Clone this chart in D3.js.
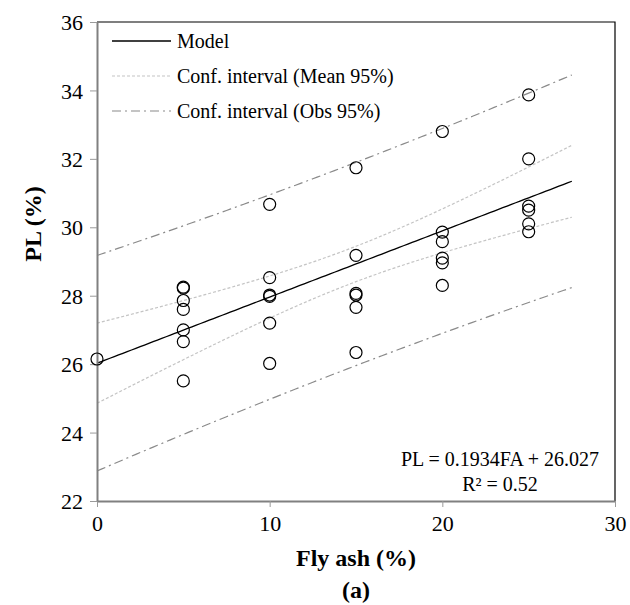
<!DOCTYPE html>
<html>
<head>
<meta charset="utf-8">
<script src="https://cdn.jsdelivr.net/npm/d3@7"></script>
<style>
  html, body { margin: 0; padding: 0; background: #fff; }
  svg { display: block; font-family: "Liberation Serif", "Times New Roman", serif; }
</style>
</head>
<body>
<svg id="chart" width="630" height="605"></svg>
<script>
// Fly ash content (%) of each specimen
const flyAsh = [0,
  5, 5, 5, 5, 5, 5, 5,
  10, 10, 10, 10, 10, 10,
  15, 15, 15, 15, 15, 15,
  20, 20, 20, 20, 20, 20,
  25, 25, 25, 25, 25, 25];
// Measured plastic limit PL (%)
const plasticLimit = [26.15,
  28.25, 28.22, 27.86, 27.6, 27.0, 26.66, 25.51,
  30.67, 28.53, 28.02, 27.98, 27.2, 26.02,
  31.74, 29.18, 28.07, 28.02, 27.66, 26.34,
  32.8, 29.86, 29.58, 29.1, 28.96, 28.3,
  33.87, 32.0, 30.62, 30.5, 30.1, 29.87];

// Fitted model PL = slope*FA + intercept and its regression statistics
const slope = 0.1934;
const intercept = 26.027;
const rSquared = 0.52;
const fitStats = { n: 32, xMean: 14.69, sxx: 1673, s: 1.432, t: 2.042 };
const modelRange = [0, 27.5];

const xTicks = [0, 10, 20, 30];
const yTicks = [22, 24, 26, 28, 30, 32, 34, 36];

const legendLabels = ["Model", "Conf. interval (Mean 95%)", "Conf. interval (Obs 95%)"];

const svg = d3.select("#chart");
const plotLeft = 97, plotRight = 615, plotTop = 22, plotBottom = 501;

const x = d3.scaleLinear().domain([0, 30]).range([plotLeft, plotRight]);
const y = d3.scaleLinear().domain([22, 36]).range([plotBottom, plotTop]);

// Model and confidence bands
const model = fx => intercept + slope * fx;
const halfWidth = (fx, obs) => fitStats.t * fitStats.s *
  Math.sqrt((obs ? 1 : 0) + 1 / fitStats.n + (fx - fitStats.xMean) ** 2 / fitStats.sxx);
const xs = d3.range(modelRange[0], modelRange[1] + 0.001, 0.25);
const line = d3.line().x(d => x(d[0])).y(d => y(d[1]));

const styles = {
  model: { stroke: "#000", width: 1.3, dash: null },
  mean: { stroke: "#c4c4c4", width: 1.2, dash: "3,2" },
  obs: { stroke: "#8a8a8a", width: 1.2, dash: "9,4,2,4" }
};

const curves = [
  ["obs", xs.map(v => [v, model(v) + halfWidth(v, true)])],
  ["obs", xs.map(v => [v, model(v) - halfWidth(v, true)])],
  ["mean", xs.map(v => [v, model(v) + halfWidth(v, false)])],
  ["mean", xs.map(v => [v, model(v) - halfWidth(v, false)])],
  ["model", xs.map(v => [v, model(v)])]
];

svg.append("g").selectAll("path").data(curves).join("path")
  .attr("d", d => line(d[1]))
  .attr("fill", "none")
  .attr("stroke", d => styles[d[0]].stroke)
  .attr("stroke-width", d => styles[d[0]].width)
  .attr("stroke-dasharray", d => styles[d[0]].dash);

// Frame: top and right border
svg.append("path")
  .attr("d", `M${plotLeft},${plotTop}H${plotRight}V${plotBottom}`)
  .attr("fill", "none").attr("stroke", "#000").attr("stroke-width", 1.2);

// Axes
const xAxis = svg.append("g").attr("transform", `translate(0,${plotBottom})`)
  .call(d3.axisBottom(x).tickValues(xTicks).tickSize(6).tickSizeOuter(0).tickPadding(8));
const yAxis = svg.append("g").attr("transform", `translate(${plotLeft},0)`)
  .call(d3.axisLeft(y).tickValues(yTicks).tickSize(7).tickSizeOuter(0).tickPadding(7));

[xAxis, yAxis].forEach(g => {
  g.select(".domain").attr("stroke", "#808080").attr("stroke-width", 2);
  g.selectAll(".tick line").attr("stroke", "#9a9a9a").attr("stroke-width", 1);
  g.selectAll(".tick text").attr("fill", "#000")
    .style("font-family", "'Liberation Serif', serif").style("font-size", "22px");
});
yAxis.selectAll(".tick text").attr("dy", "0.35em");

// Observations
svg.append("g").selectAll("circle").data(flyAsh.map((v, i) => [v, plasticLimit[i]]))
  .join("circle")
  .attr("cx", d => x(d[0])).attr("cy", d => y(d[1])).attr("r", 6)
  .attr("fill", "none").attr("stroke", "#000").attr("stroke-width", 1.2);

// Legend
const legend = svg.append("g");
const legendKeys = ["model", "mean", "obs"];
legendLabels.forEach((label, i) => {
  const ly = 41 + i * 35;
  const st = styles[legendKeys[i]];
  legend.append("line").attr("x1", 112).attr("x2", 171).attr("y1", ly).attr("y2", ly)
    .attr("stroke", st.stroke).attr("stroke-width", st.width).attr("stroke-dasharray", st.dash);
  legend.append("text").attr("x", 177).attr("y", ly).attr("dy", "0.33em")
    .style("font-size", "20px").text(label);
});

// Equation
svg.append("text").attr("x", 500).attr("y", 466).attr("text-anchor", "middle")
  .style("font-size", "20px").text(`PL = ${slope}FA + ${intercept}`);
svg.append("text").attr("x", 500).attr("y", 491).attr("text-anchor", "middle")
  .style("font-size", "20px").text(`R² = ${rSquared}`);

// Axis titles and panel label
svg.append("text").attr("x", (plotLeft + plotRight) / 2).attr("y", 566).attr("text-anchor", "middle")
  .style("font-size", "24px").style("font-weight", "bold").text("Fly ash (%)");
svg.append("text").attr("x", (plotLeft + plotRight) / 2).attr("y", 598).attr("text-anchor", "middle")
  .style("font-size", "24px").style("font-weight", "bold").text("(a)");
svg.append("text").attr("transform", "translate(41,224) rotate(-90)").attr("text-anchor", "middle")
  .style("font-size", "24px").style("font-weight", "bold").text("PL (%)");
</script>
</body>
</html>
